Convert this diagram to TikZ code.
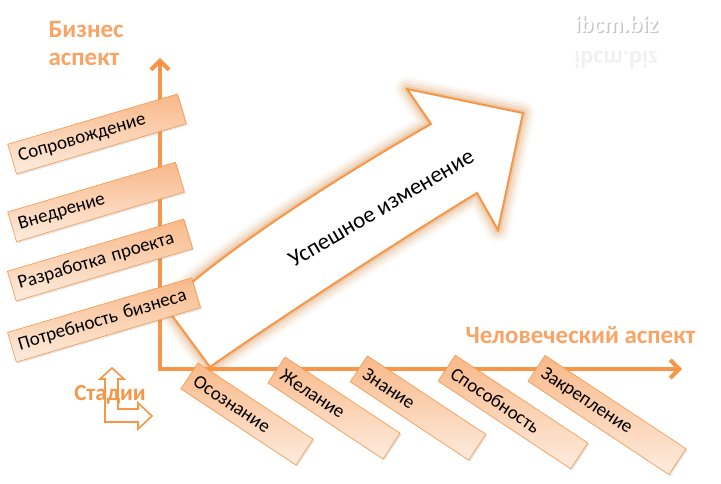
\documentclass[tikz,border=0pt]{standalone}
\usepackage{fontspec}
\setmainfont{Carlito}
\usepackage{xcolor}
\usetikzlibrary{arrows.meta, shadows}
\definecolor{accent}{HTML}{F79646}
\definecolor{peachtop}{RGB}{249,184,136}
\definecolor{peachbot}{RGB}{253,236,222}
\definecolor{glowc}{RGB}{208,132,58}
\definecolor{labelc}{RGB}{249,163,100}

\begin{document}
\begin{tikzpicture}[
  x=1pt, y=-1pt,
  peach/.style={rectangle, draw=accent, line width=0.6pt, top color=peachtop, bottom color=peachbot, minimum height=31pt, inner xsep=7pt, inner ysep=2pt, align=left, font=\fontsize{19}{21}\selectfont, drop shadow={shadow xshift=1.5pt, shadow yshift=-1.5pt, opacity=0.2}},
  bizbox/.style={peach, rotate=16.5},
  stagebox/.style={peach, rotate=-33.5},
  axis/.style={accent, line width=4pt, {Straight Barb[length=9pt, width=18pt]}-{Straight Barb[length=9pt, width=18pt]}},
  axislabel/.style={text=labelc, font=\bfseries\fontsize{25}{28}\selectfont, align=left}
]
  \useasboundingbox (0,0) rectangle (721,484);

  % big arrow with glow
  \foreach \w/\o in {24/0.06, 18/0.09, 12/0.14, 6/0.2} {
    \draw[glowc, line width=\w pt, opacity=\o, line join=round]
      (165,306) .. controls (230,245) and (350,170) .. (431,124) -- (407,89) -- (523,113)
      -- (498,230) -- (477,193) .. controls (400,240) and (280,318) .. (210,367) -- cycle;
  }
  \draw[accent, line width=2pt, fill=white]
    (165,306) .. controls (230,245) and (350,170) .. (431,124) -- (407,89) -- (523,113)
    -- (498,230) -- (477,193) .. controls (400,240) and (280,318) .. (210,367) -- cycle;
  \node[rotate=30.5, font=\fontsize{23}{25}\selectfont] (change) at (381,208) {Успешное изменение};

  % axes
  \coordinate (origin) at (160,369);
  \coordinate (bizend) at (160,58);
  \coordinate (humend) at (682,369);
  \draw[axis] (bizend) -- (origin) -- (humend);

  \node[axislabel, anchor=north west] (bizlabel) at (45,18) {Бизнес\\аспект};
  \node[axislabel, anchor=west] (humlabel) at (462,335) {Человеческий аспект};

  % business stages
  \node[bizbox, text width=163pt] (b1) at (97,134) {Сопровождение};
  \node[bizbox, text width=161pt] (b2) at (96,202) {Внедрение};
  \node[bizbox, text width=170pt] (b3) at (100,260) {Разработка проекта};
  \node[bizbox, text width=178pt] (b4) at (104,320) {Потребность бизнеса};

  % human stages
  \node[stagebox, text width=124pt] (h1) at (247,414) {Осознание};
  \node[stagebox, text width=124pt] (h2) at (334,408) {Желание};
  \node[stagebox, text width=128pt] (h3) at (418,408) {Знание};
  \node[stagebox, text width=145pt] (h4) at (513,412) {Способность};
  \node[stagebox, text width=155pt] (h5) at (607,415) {Закрепление};

  % stages icon
  \draw[accent, line width=1.6pt, fill=white, line join=miter]
    (112,368) -- (124,379) -- (118,379) -- (118,409) -- (138,409) -- (138,403) -- (152,416)
    -- (138,429) -- (138,422) -- (105,422) -- (105,379) -- (100,379) -- cycle;
  \node[text=accent, font=\bfseries\fontsize{23}{25}\selectfont] (stages) at (110,395) {Стадии};

  % watermark
  \node[text=gray!45, font=\bfseries\fontsize{24}{26}\selectfont] (siteshadow) at (617.5,25.5) {ibcm.biz};
  \node[text=white, font=\bfseries\fontsize{24}{26}\selectfont] (site) at (616,24) {ibcm.biz};
  \node[text=gray!12, yscale=-1, font=\bfseries\fontsize{24}{26}\selectfont] (siterefl) at (616,60) {ibcm.biz};
\end{tikzpicture}
\end{document}
